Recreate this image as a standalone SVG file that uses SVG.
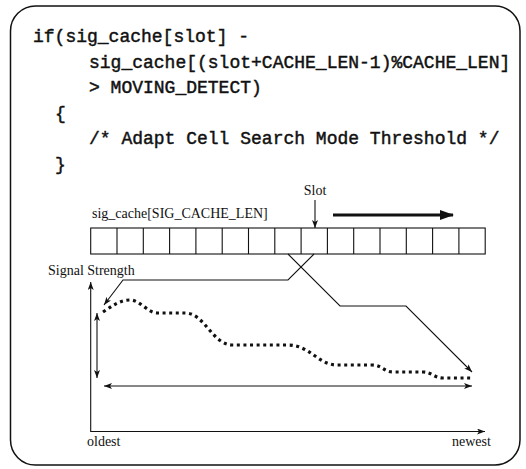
<svg xmlns="http://www.w3.org/2000/svg" width="526" height="469" viewBox="0 0 526 469">
  <style>
    .code { font-family: "Liberation Mono", "DejaVu Sans Mono", monospace; font-size: 18px; fill: #111; stroke: #111; stroke-width: 0.45; }
    .lbl { font-family: "Liberation Serif", "Times New Roman", serif; font-size: 14px; fill: #111; }
    .thin { fill: none; stroke: #111; stroke-width: 1.1; }
    .cell { fill: #fff; stroke: #111; stroke-width: 1.1; }
    .trace { fill: none; stroke: #111; stroke-width: 3.2; stroke-dasharray: 3 3.6; }
  </style>
  <defs>
    <marker id="tip" markerUnits="userSpaceOnUse" viewBox="0 0 8 6" refX="8" refY="3" markerWidth="8" markerHeight="6" orient="auto-start-reverse">
      <path d="M0,0 L8,3 L0,6 L2,3 z" fill="#111"/>
    </marker>
    <marker id="bigtip" markerUnits="userSpaceOnUse" viewBox="0 0 14 10" refX="13" refY="5" markerWidth="14" markerHeight="10" orient="auto">
      <path d="M0,0 L14,5 L0,10 z" fill="#111"/>
    </marker>
  </defs>

  <!-- outer frame -->
  <rect x="10.5" y="6" width="509.5" height="459" rx="25" ry="25" fill="#fff" stroke="#111" stroke-width="1.5"/>

  <!-- code listing -->
  <g id="code">
    <text class="code" x="33" y="42">if(sig_cache[slot] -</text>
    <text class="code" x="89" y="67.5">sig_cache[(slot+CACHE_LEN-1)%CACHE_LEN]</text>
    <text class="code" x="89" y="93">&gt; MOVING_DETECT)</text>
    <text class="code" x="55" y="118.5">{</text>
    <text class="code" x="89" y="144">/* Adapt Cell Search Mode Threshold */</text>
    <text class="code" x="55" y="169.5">}</text>
  </g>

  <!-- circular buffer of signal samples -->
  <g id="buffer">
    <text class="lbl" x="92" y="218">sig_cache[SIG_CACHE_LEN]</text>
    <rect class="cell" x="90.7" y="228" width="394.5" height="26"/>
    <path class="thin" d="M117,228V254M143.3,228V254M169.6,228V254M195.9,228V254M222.2,228V254M248.5,228V254M274.8,228V254M301.1,228V254M327.4,228V254M353.7,228V254M380,228V254M406.3,228V254M432.6,228V254M458.9,228V254"/>
  </g>

  <g id="slot">
    <text class="lbl" x="315" y="195" text-anchor="middle">Slot</text>
  </g>

  <!-- signal strength chart -->
  <g id="chart">
    <text class="lbl" x="48" y="275">Signal Strength</text>
    <text class="lbl" x="87" y="446">oldest</text>
    <text class="lbl" x="452" y="446">newest</text>
    <path class="trace" d="M103,312 C112,306 120,300 130,300 C140,300 148,313 157,313 L185,313 C205,313 212,345 233,345 L288,345 C310,345 318,365 337,365 L372,365 C382,365 384,372 393,372 L423,372 C432,372 434,378 443,378 L472,378"/>
  </g>

  <g id="connectors">
    <!-- slot pointer and direction of writing -->
    <line class="thin" x1="315" y1="200" x2="315" y2="228" marker-end="url(#tip)"/>
    <line x1="333" y1="215" x2="453" y2="215" stroke="#111" stroke-width="3" marker-end="url(#bigtip)"/>
    <!-- slot maps to oldest sample, slot-1 to newest -->
    <polyline class="thin" points="314,254 288,280 123,280 104,305" marker-end="url(#tip)"/>
    <polyline class="thin" points="288,254 340,306 406,306 472,372" marker-end="url(#tip)"/>
    <!-- axes -->
    <polyline class="thin" points="90.7,282 90.7,431.5 485,431.5" marker-start="url(#tip)" marker-end="url(#tip)"/>
    <!-- spread between oldest and newest -->
    <line class="thin" x1="97" y1="313" x2="97" y2="378" marker-start="url(#tip)" marker-end="url(#tip)"/>
    <line class="thin" x1="104" y1="386" x2="472" y2="386" marker-start="url(#tip)" marker-end="url(#tip)"/>
  </g>
</svg>
